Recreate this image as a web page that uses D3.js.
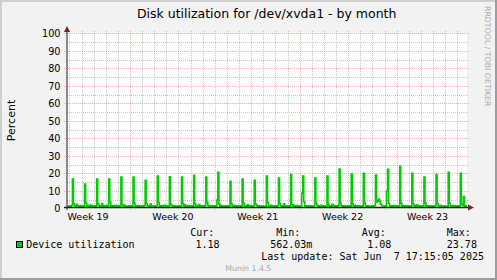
<!DOCTYPE html>
<html><head><meta charset="utf-8">
<script src="https://cdn.jsdelivr.net/npm/d3@7/dist/d3.min.js"></script>
<style>html,body{margin:0;padding:0;background:#f2f2f2;} svg{display:block} text{white-space:pre}</style>
</head><body><svg id="c" width="497" height="280"></svg>
<script>
// ---------------- data ----------------
const title = "Disk utilization for /dev/xvda1 - by month";
const yLabel = "Percent";
const startTime = "2025-05-06T18:15:00Z";
const endTime = "2025-06-08T18:15:00Z";
const firstSample = "2025-05-06T20:00:00Z";
const sampleHours = 2;
const yMajorTicks = [0, 10, 20, 30, 40, 50, 60, 70, 80, 90, 100];
const yMinorTicks = [5, 15, 25, 35, 45, 55, 65, 75, 85, 95];
const weekLabelPrefix = "Week ";
// one row per day, 2-hour samples (percent)
const utilization = [
  1.3, 0.9, 1.1, 0.8, 1.6, 16.6, 2.4, 1.2, 1.0, 2.1, 1.3, 0.9,
  1.1, 1.4, 0.8, 1.0, 1.2, 13.7, 3.1, 1.1, 1.5, 0.9, 1.2, 1.7,
  1.0, 1.2, 0.9, 1.3, 1.1, 16.6, 2.2, 1.4, 0.8, 1.1, 2.6, 1.0,
  1.2, 0.9, 1.0, 1.5, 1.0, 16.6, 3.4, 1.0, 1.3, 1.1, 0.9, 1.4,
  1.5, 1.1, 0.8, 1.0, 1.3, 17.7, 2.0, 1.2, 1.7, 1.0, 1.1, 0.9,
  1.0, 1.3, 1.1, 0.56, 1.2, 17.7, 2.8, 1.1, 0.9, 1.4, 1.2, 1.0,
  1.3, 1.0, 0.9, 1.1, 1.6, 15.8, 2.5, 1.3, 1.0, 1.2, 2.3, 1.1,
  1.1, 0.9, 1.2, 1.0, 1.4, 18.3, 3.0, 1.0, 1.3, 0.9, 1.1, 1.5,
  1.2, 1.4, 0.8, 1.1, 1.0, 17.9, 2.1, 1.5, 1.1, 1.0, 1.3, 0.9,
  1.0, 1.1, 1.3, 0.9, 1.2, 17.7, 2.7, 1.2, 1.8, 1.1, 1.0, 1.2,
  1.4, 1.0, 0.9, 1.2, 1.1, 18.7, 2.4, 1.1, 1.0, 1.3, 2.0, 1.1,
  1.2, 0.9, 1.1, 1.0, 1.5, 17.7, 3.3, 1.4, 1.2, 0.9, 1.1, 1.3,
  1.0, 1.2, 0.8, 1.3, 4.6, 20.4, 2.2, 1.0, 1.4, 1.1, 1.2, 0.9,
  1.1, 1.3, 1.0, 0.9, 1.2, 15.2, 2.6, 1.2, 1.0, 1.5, 1.1, 1.0,
  1.3, 1.0, 1.1, 1.2, 1.0, 16.6, 2.9, 1.1, 1.3, 1.0, 1.8, 1.2,
  1.0, 1.4, 0.9, 1.0, 1.3, 15.8, 2.3, 1.5, 1.1, 1.2, 1.0, 1.1,
  1.2, 1.1, 1.0, 0.8, 1.1, 18.3, 3.2, 1.0, 1.2, 1.6, 1.1, 1.3,
  1.1, 0.9, 1.2, 1.1, 1.4, 17.1, 2.5, 1.3, 1.0, 1.1, 2.4, 1.0,
  1.3, 1.2, 0.9, 1.0, 1.2, 19.1, 2.0, 1.1, 1.5, 1.0, 1.2, 1.4,
  1.0, 1.1, 1.3, 1.2, 8.5, 18.3, 3.6, 1.2, 1.0, 1.3, 1.1, 0.9,
  1.2, 1.0, 1.1, 0.9, 1.3, 17.1, 2.7, 1.4, 1.1, 1.2, 1.0, 1.6,
  1.1, 1.3, 0.8, 1.1, 1.0, 18.3, 2.2, 1.0, 1.3, 1.1, 2.1, 1.2,
  1.4, 1.0, 1.2, 1.0, 1.5, 22.3, 3.1, 1.2, 1.0, 1.4, 1.1, 1.0,
  1.0, 1.2, 0.9, 1.3, 1.1, 19.4, 2.4, 1.1, 1.6, 1.0, 1.2, 1.3,
  1.2, 1.1, 1.0, 1.0, 1.2, 19.8, 2.8, 1.3, 1.1, 1.2, 1.0, 1.1,
  1.1, 1.0, 1.3, 1.1, 1.4, 18.9, 3.5, 4.2, 5.1, 3.8, 2.2, 1.3,
  1.3, 1.2, 1.0, 0.9, 9.5, 22.1, 2.6, 1.2, 1.0, 1.3, 1.1, 1.4,
  1.0, 1.1, 1.2, 1.0, 1.3, 23.78, 2.9, 1.1, 1.4, 1.0, 1.2, 1.0,
  1.2, 1.3, 0.9, 1.1, 1.0, 19.8, 2.3, 1.5, 1.1, 1.2, 1.9, 1.1,
  1.1, 1.0, 1.2, 1.3, 1.2, 17.7, 3.0, 1.0, 1.2, 1.1, 1.0, 1.3,
  1.3, 1.1, 0.8, 1.0, 1.4, 19.1, 2.5, 1.2, 1.3, 1.6, 1.1, 1.0,
  1.0, 1.2, 1.1, 0.9, 1.1, 20.4, 2.8, 1.3, 1.0, 1.2, 1.4, 1.1,
  1.2, 1.0, 1.3, 1.1, 1.2, 19.8, 2.2, 1.4, 6.6, 1.1, 1.2, 1.18
];
const seriesName = "Device utilization";
const seriesColor = "#00cc00";
const statHeaders = ["Cur:", "Min:", "Avg:", "Max:"];
const statValues = ["1.18", "562.03m", "1.08", "23.78"];
const lastUpdate = "Last update: Sat Jun  7 17:15:05 2025";
const footer = "Munin 1.4.5";
const watermark = "RRDTOOL / TOBI OETIKER";

// ---------------- drawing ----------------
const W = 497, H = 280;
const L = 67, R = 467, T = 33, B = 208;
const svg = d3.select("#c");
const sans = "DejaVu Sans", mono = "DejaVu Sans Mono";

svg.append("rect").attr("width", W).attr("height", H).attr("fill", "#f2f2f2");
svg.append("rect").attr("x", 0).attr("y", 0).attr("width", W).attr("height", 2).attr("fill", "#cfcfcf");
svg.append("rect").attr("x", 0).attr("y", 0).attr("width", 2).attr("height", H).attr("fill", "#cfcfcf");
svg.append("rect").attr("x", W - 2).attr("y", 0).attr("width", 2).attr("height", H).attr("fill", "#9e9e9e");
svg.append("rect").attr("x", 0).attr("y", H - 2).attr("width", W).attr("height", 2).attr("fill", "#9e9e9e");

svg.append("rect").attr("x", L).attr("y", T).attr("width", R - L).attr("height", B - T).attr("fill", "#ffffff");

const x = d3.scaleUtc().domain([new Date(startTime), new Date(endTime)]).range([L, R]);
const y = d3.scaleLinear().domain([0, 100]).range([B, T]);
const snapY = v => Math.ceil(v - 0.01) + 0.5;
const snapX = v => Math.floor(v) + 0.5;

const minorCol = "rgba(143,143,143,0.5)";
const majorCol = "rgba(222,79,79,0.4)";

const grid = svg.append("g");
grid.selectAll("line.hmin").data(yMinorTicks).join("line")
  .attr("x1", L).attr("x2", R + 2)
  .attr("y1", d => snapY(y(d))).attr("y2", d => snapY(y(d)))
  .attr("stroke", minorCol).attr("stroke-dasharray", "1,1");
const [d0, d1] = x.domain();
const days = d3.utcDay.range(d0, d1).filter(d => d.getUTCDay() !== 1);
const mondays = d3.utcMonday.range(d0, d1);
grid.selectAll("line.vmin").data(days).join("line")
  .attr("x1", d => snapX(x(d))).attr("x2", d => snapX(x(d)))
  .attr("y1", T - 2).attr("y2", B)
  .attr("stroke", minorCol).attr("stroke-dasharray", "1,1");
grid.selectAll("line.hmaj").data(yMajorTicks.filter(d => d > 0)).join("line")
  .attr("x1", L - 3).attr("x2", R + 2)
  .attr("y1", d => snapY(y(d))).attr("y2", d => snapY(y(d)))
  .attr("stroke", majorCol).attr("stroke-dasharray", "1,1");
grid.selectAll("line.vmaj").data(mondays).join("line")
  .attr("x1", d => snapX(x(d))).attr("x2", d => snapX(x(d)))
  .attr("y1", T - 2).attr("y2", B + 2)
  .attr("stroke", majorCol).attr("stroke-dasharray", "1,1");

// data line (stepped: each sample occupies its own pixel column)
const t0 = +new Date(firstSample);
const pts = utilization.map((v, i) => ({ t: new Date(t0 + i * sampleHours * 3600e3), v }));
svg.append("clipPath").attr("id", "cp").append("rect")
  .attr("x", L).attr("y", T - 2).attr("width", R - L).attr("height", B - T + 2);
svg.append("path").datum(pts)
  .attr("clip-path", "url(#cp)")
  .attr("d", d3.line().curve(d3.curveStep).x(d => x(d.t)).y(d => y(d.v)))
  .attr("fill", "none").attr("stroke", seriesColor).attr("stroke-width", 1.6)
  .attr("stroke-linejoin", "miter");

// axes
svg.append("line").attr("x1", L).attr("x2", L).attr("y1", B + 2).attr("y2", T - 2)
  .attr("stroke", "#1f1f1f").attr("stroke-width", 1);
svg.append("line").attr("x1", L - 3).attr("x2", R + 2).attr("y1", B - 0.5).attr("y2", B - 0.5)
  .attr("stroke", "#1f1f1f").attr("stroke-width", 1.5);
svg.append("path").attr("d", `M${L - 3},${T - 1}L${L + 3},${T - 1}L${L},${T - 7}Z`).attr("fill", "#801f1f");
svg.append("path").attr("d", `M${R + 1},${B - 3.5}L${R + 1},${B + 2.5}L${R + 7},${B - 0.5}Z`).attr("fill", "#801f1f");

// y tick labels
svg.append("g").selectAll("text").data(yMajorTicks).join("text")
  .attr("x", 60.5).attr("y", d => snapY(y(d)) + 3.3)
  .attr("text-anchor", "end").attr("font-family", sans).attr("font-size", 9.7)
  .attr("fill", "#000").text(d => d);

// week labels
const fmtWeek = d3.utcFormat("%V");
const weekStarts = d3.utcMonday.range(d3.utcMonday.offset(d0, -1), d1)
  .map(m => ({ m, c: new Date(+m + 3.5 * 86400e3) }))
  .filter(o => o.c >= d0 && o.c <= d1);
svg.append("g").selectAll("text").data(weekStarts).join("text")
  .attr("x", o => x(o.c)).attr("y", 220)
  .attr("text-anchor", "middle").attr("font-family", sans).attr("font-size", 9.5)
  .attr("fill", "#000").text(o => weekLabelPrefix + fmtWeek(o.m));

// title
svg.append("text").attr("x", 266.7).attr("y", 18).attr("text-anchor", "middle")
  .attr("font-family", sans).attr("font-size", 12.5).attr("fill", "#000").text(title);

// y label
svg.append("text").attr("transform", `translate(14.5,${(T + B) / 2}) rotate(-90)`)
  .attr("text-anchor", "middle").attr("font-family", sans).attr("font-size", 11)
  .attr("fill", "#000").text(yLabel);

// watermark right (reads top to bottom)
svg.append("text").attr("transform", "translate(484.5,6) rotate(90)")
  .attr("font-family", sans).attr("font-size", 7.8).attr("fill", "#ababab").text(watermark);

// legend
svg.append("rect").attr("x", 16.5).attr("y", 241.5).attr("width", 6).attr("height", 6)
  .attr("fill", seriesColor).attr("stroke", "#000").attr("stroke-width", 1);
svg.append("text").attr("x", 26.2).attr("y", 248).attr("font-family", mono).attr("font-size", 10)
  .attr("fill", "#000").text(seriesName);
const headerX = [190.2, 276.2, 361.8, 446.8];
const valueX = [195.5, 270.2, 367.2, 446.8];
svg.append("g").selectAll("text").data(statHeaders).join("text")
  .attr("x", (d, i) => headerX[i]).attr("y", 236).attr("font-family", mono).attr("font-size", 10)
  .attr("fill", "#000").text(d => d);
svg.append("g").selectAll("text").data(statValues).join("text")
  .attr("x", (d, i) => valueX[i]).attr("y", 248).attr("font-family", mono).attr("font-size", 10)
  .attr("fill", "#000").text(d => d);
svg.append("text").attr("x", 261.2).attr("y", 260).attr("font-family", mono).attr("font-size", 10)
  .attr("fill", "#000").text(lastUpdate);
svg.append("text").attr("x", 248.3).attr("y", 271).attr("text-anchor", "middle")
  .attr("font-family", sans).attr("font-size", 7.8).attr("fill", "#ababab").text(footer);
</script>
</body></html>
